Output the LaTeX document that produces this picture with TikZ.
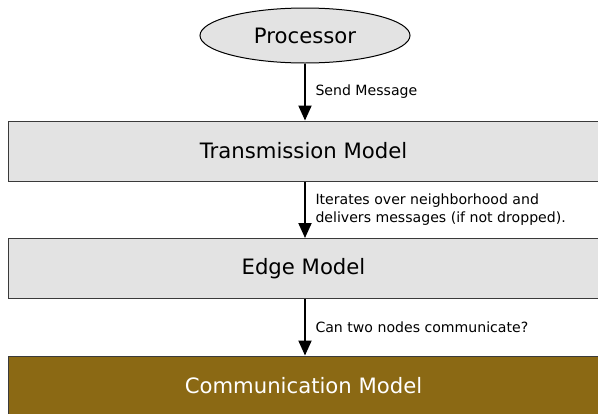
\documentclass[tikz,border=0pt]{standalone}
\usepackage{fontspec}
\setmainfont{DejaVu Sans}
\usetikzlibrary{arrows.meta,shapes.geometric}
\definecolor{boxgray}{HTML}{E3E3E3}
\definecolor{boxedge}{HTML}{3A3A3A}
\definecolor{commbrown}{HTML}{8B6914}
\tikzset{
  modelbox/.style={draw=boxedge, line width=1pt, fill=boxgray, rectangle,
    minimum width=594pt, minimum height=60pt, inner sep=0pt,
    font=\fontsize{21.2}{25}\selectfont},
  procnode/.style={draw=black, line width=1pt, fill=boxgray, ellipse,
    minimum width=210pt, minimum height=55pt, inner sep=0pt,
    font=\fontsize{21.2}{25}\selectfont},
  flow/.style={line width=2pt, -{Triangle[length=15pt,width=13pt]}},
  flowlabel/.style={anchor=west, inner sep=0pt, xshift=9.5pt, align=left,
    font=\fontsize{14.1}{18}\selectfont}
}
\begin{document}
\begin{tikzpicture}[x=1pt, y=-1pt]
  \useasboundingbox (0,0) rectangle (598,413);
  \clip (0,0) rectangle (598,413);

  \node[procnode] (proc) at (305,35.5) {Processor};
  \node[modelbox] (tm) at (305,151) {\hspace*{-3pt}Transmission Model};
  \node[modelbox] (em) at (305,268.5) {\hspace*{-3pt}Edge Model};
  \node[modelbox, fill=commbrown, text=white] (cm) at (305,386) {\hspace*{-3pt}Communication Model};

  \draw[flow] (proc.south) -- (proc.south |- tm.north)
    node[flowlabel, pos=0.5] {Send Message};
  \draw[flow] (tm.south) -- (em.north)
    node[flowlabel, pos=0.5] {Iterates over neighborhood and\\delivers messages (if not dropped).};
  \draw[flow] (em.south) -- (cm.north)
    node[flowlabel, pos=0.5] {Can two nodes communicate?};
\end{tikzpicture}
\end{document}
